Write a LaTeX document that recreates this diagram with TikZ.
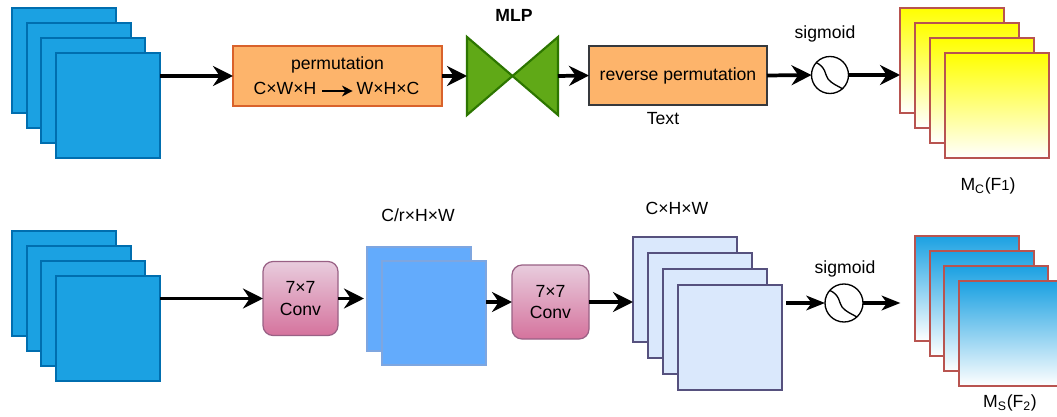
\documentclass[tikz,border=0pt]{standalone}
\usepackage{fontspec}
\setmainfont{Liberation Sans}
\usetikzlibrary{arrows.meta,calc}
\definecolor{bluef}{HTML}{1BA1E2}
\definecolor{blued}{HTML}{006EAF}
\definecolor{orf}{HTML}{FDB46B}
\definecolor{ord}{HTML}{D9622B}
\definecolor{grf}{HTML}{60A917}
\definecolor{grd}{HTML}{2D7600}
\definecolor{redd}{HTML}{B85450}
\definecolor{pinkt}{HTML}{E8CCDD}
\definecolor{pinkb}{HTML}{D5739D}
\definecolor{pinkd}{HTML}{996185}
\definecolor{lbf}{HTML}{63ABFC}
\definecolor{lbd}{HTML}{7EA6E0}
\definecolor{lavf}{HTML}{DAE8FC}
\definecolor{lavd}{HTML}{56517E}
\definecolor{darkg}{HTML}{36393D}
\begin{document}
\begin{tikzpicture}[x=0.75pt,y=-0.75pt,
  every node/.style={font=\fontsize{13.2}{15.8}\selectfont, inner sep=0pt, outer sep=0pt},
  fmap/.style={draw, line width=0.9pt, anchor=north west, minimum width=78pt, minimum height=78.75pt},
  bluemap/.style={fmap, fill=bluef, draw=blued},
  yelmap/.style={fmap, draw=redd, top color=yellow, bottom color=white},
  gradblue/.style={fmap, draw=redd, top color=bluef, bottom color=white},
  lbmap/.style={fmap, fill=lbf, draw=lbd, minimum height=78pt},
  lavmap/.style={fmap, fill=lavf, draw=lavd},
  permbox/.style={draw, line width=1pt, fill=orf},
  convbox/.style={draw=pinkd, line width=0.9pt, top color=pinkt, bottom color=pinkb, rounded corners=7.5pt, align=center, minimum width=56.25pt, minimum height=55.5pt},
  sigc/.style={circle, draw, line width=1pt, minimum size=27.75pt, fill=white},
  arr/.style={line width=2.8pt, -{Stealth[length=15pt,width=15pt,inset=5pt]}},
  sarr/.style={line width=2.3pt, -{Stealth[length=14pt,width=11pt,inset=4pt]}},
  lbl/.style={anchor=center}
]
\clip (0,0) rectangle (1057,417);
\fill[white] (0,0) rectangle (1057,417);

% top input stack
\node[bluemap] (a1) at (12,8) {};
\node[bluemap] (a2) at (27,23) {};
\node[bluemap] (a3) at (41,38) {};
\node[bluemap] (a4) at (56,53) {};

% permutation
\node[permbox, draw=ord, minimum width=156.75pt, minimum height=45pt] (perm) at (337.5,76) {};
\node[lbl] (t0) at (337.5,65) {permutation};
\node[lbl] (t1) at (285,88) {C×W×H};
\node[lbl] (t2) at (388,88) {W×H×C};
\draw[line width=1.3pt, -{Stealth[length=8pt,width=8pt,inset=2.5pt]}] ($(t1.east)+(6,3)$) -- ($(t2.west)+(-4,3)$);

% MLP
\node[minimum width=68.25pt, minimum height=58.5pt] (mlp) at (512.5,76) {};
\draw[fill=grf, draw=grd, line width=1.6pt, line join=miter]
  (mlp.north west) -- (mlp.center) -- (mlp.south west) -- cycle
  (mlp.north east) -- (mlp.center) -- (mlp.south east) -- cycle;
\node[lbl, font=\fontsize{13.2}{15.8}\selectfont\bfseries] (mlpl) at (514,15) {MLP};

% reverse permutation
\node[permbox, draw=darkg, minimum width=133.5pt, minimum height=44.25pt] (rev) at (678,75.5) {reverse permutation};
\node[lbl] (txt) at (663,119) {Text};

% sigmoid 1
\node[sigc] (sig1) at (830,75) {};
\draw[line width=1pt, shift={(sig1.center)}] (-14,-12.5) .. controls (-4,-8) and (-5,0) .. (-2,4) .. controls (2,9) and (8,11) .. (13,14);
\node[lbl] (s1l) at (825,34) {sigmoid};

% yellow stack
\node[yelmap] (y1) at (900,8) {};
\node[yelmap] (y2) at (915,23) {};
\node[yelmap] (y3) at (930,38) {};
\node[yelmap] (y4) at (945,53) {};
\node[lbl] (mcl) at (988,186) {M\textsubscript{C}(F{\fontsize{11}{13}\selectfont 1})};

% top arrows
\draw[arr] (a4.east |- perm.west) -- (perm.west);
\draw[arr] (perm.east) -- (mlp.west);
\draw[arr] (mlp.east) -- (rev.west);
\draw[arr] (rev.east) -- (sig1.west);
\draw[arr] (sig1.east) -- (sig1.east -| y1.west);

% bottom input stack
\node[bluemap] (b1) at (12,231) {};
\node[bluemap] (b2) at (27,246) {};
\node[bluemap] (b3) at (41,261) {};
\node[bluemap] (b4) at (56,276) {};

% conv 1
\node[convbox] (conv1) at (300.5,298.5) {7×7\\Conv};

% light blue pair
\node[lbmap] (p1) at (367,247) {};
\node[lbmap] (p2) at (382,261) {};
\node[lbl] (crl) at (418,215) {C/r×H×W};

% conv 2
\node[convbox, minimum width=57.75pt] (conv2) at (550.5,302) {7×7\\Conv};

% lavender stack
\node[lavmap] (l1) at (633,237) {};
\node[lavmap] (l2) at (648,253) {};
\node[lavmap] (l3) at (663,269) {};
\node[lavmap] (l4) at (678,285) {};
\node[lbl] (chwl) at (677,208) {C×H×W};

% sigmoid 2
\node[sigc, minimum size=28.5pt] (sig2) at (844,303) {};
\draw[line width=1pt, shift={(sig2.center)}] (-14,-12.5) .. controls (-4,-8) and (-5,0) .. (-2,4) .. controls (2,9) and (8,11) .. (13,14);
\node[lbl] (s2l) at (845,269) {sigmoid};

% output stack bottom
\node[gradblue] (m1) at (915,236) {};
\node[gradblue] (m2) at (930,251) {};
\node[gradblue] (m3) at (944,266) {};
\node[gradblue] (m4) at (959,281) {};
\node[lbl] (msl) at (1010,403) {M\textsubscript{S}(F\textsubscript{2})};

% bottom arrows
\draw[arr] (b4.east |- conv1.west) -- (conv1.west);
\draw[arr] (conv1.east) -- ($(conv1.east -| p1.west)+(-3,0)$);
\draw[arr] (p2.east |- conv2.west) -- (conv2.west);
\draw[arr] (conv2.east) -- (conv2.east -| l1.west);
\draw[sarr] ($(l4.east |- sig2.west)+(4,0)$) -- (sig2.west);
\draw[sarr, shorten >=11pt] (sig2.east) -- (sig2.east -| m1.west);
\end{tikzpicture}
\end{document}
